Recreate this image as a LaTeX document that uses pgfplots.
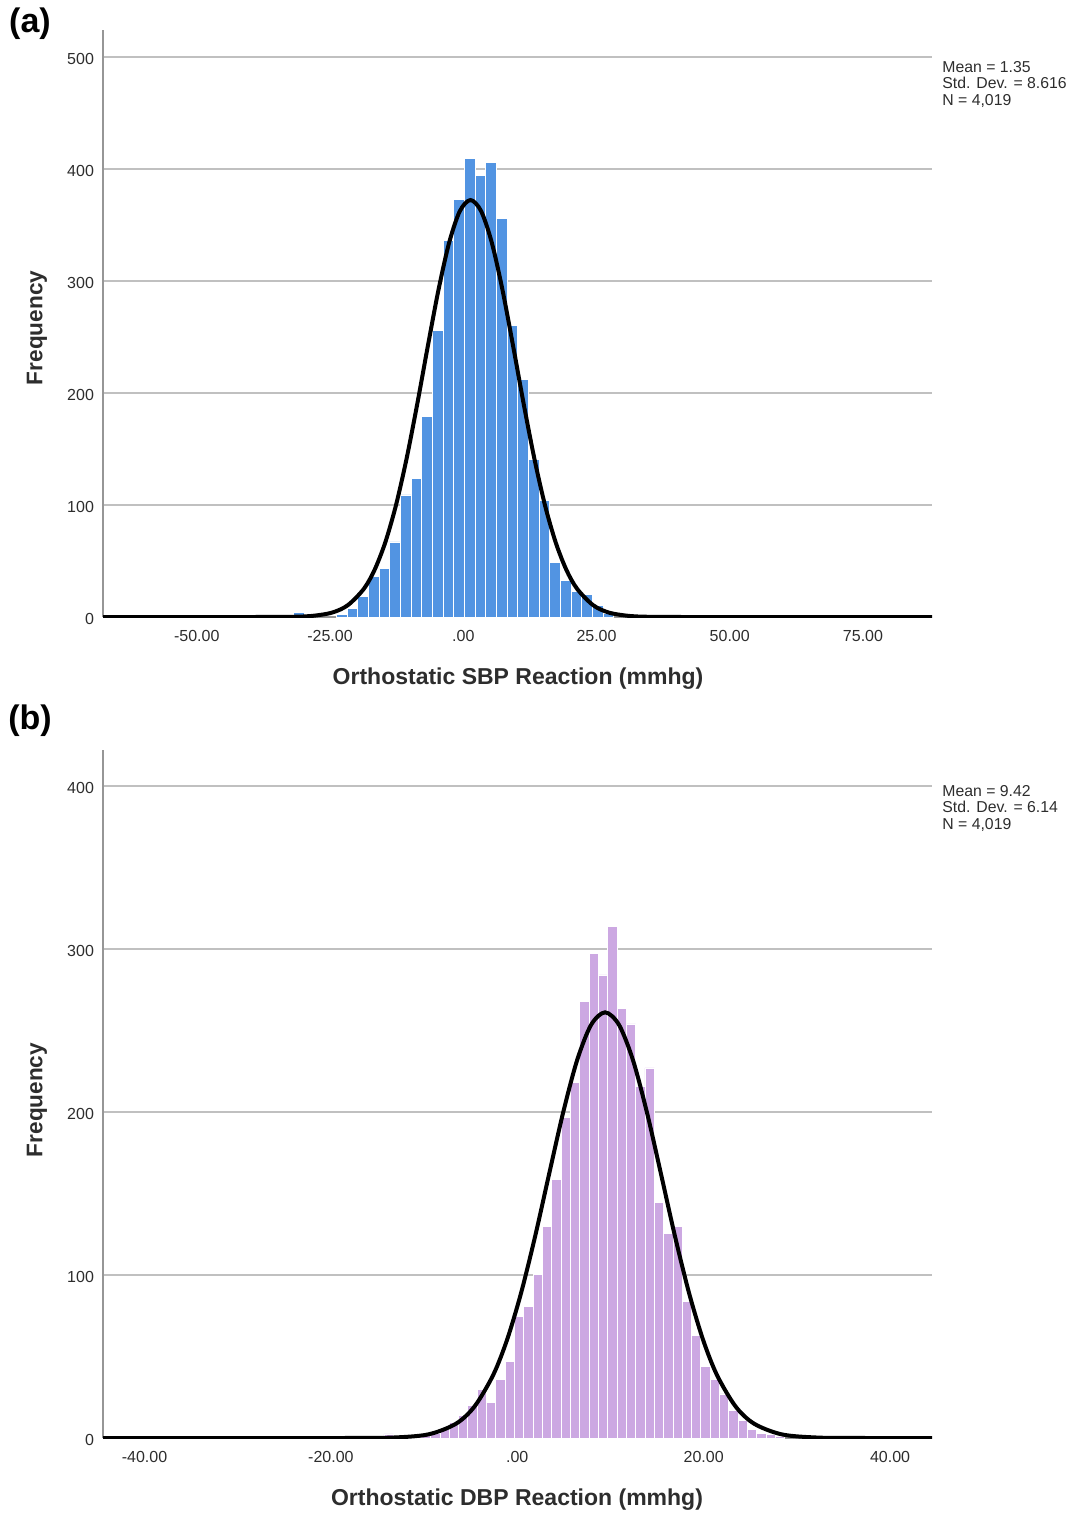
\documentclass[border=0pt]{standalone}
\usepackage{pgfplots}
\pgfplotsset{compat=1.18}
\usepackage{fontspec}
\setmainfont{Liberation Sans}
\definecolor{barA}{RGB}{82,148,226}
\definecolor{barB}{RGB}{204,168,226}
\definecolor{gridc}{RGB}{192,192,192}
\definecolor{axc}{RGB}{150,150,150}
\definecolor{tickc}{RGB}{45,45,45}
\pgfplotsset{
  myaxis/.style={
    scale only axis, width=414.5pt,
    axis x line=bottom, axis y line=left,
    axis line style={axc, line width=0.8pt, -},
    major tick length=0pt,
    ymajorgrids, grid style={gridc, line width=0.8pt},
    ymin=0,
    tick label style={font=\fontsize{8}{9.6}\selectfont, color=tickc},
    /pgf/number format/assume math mode=true,
    xticklabel style={yshift=-3pt},
    yticklabel style={xshift=-1pt, yshift=-1.2pt},
  }
}
\begin{document}
\begin{tikzpicture}
\useasboundingbox (0,0) rectangle (536.5pt,-757.5pt);
% ---------- (a) ----------
\begin{axis}[myaxis, at={(51.5pt,-308.5pt)}, anchor=south west,
  height=293.5pt, xmin=-67.6, xmax=87.95, ymax=524,
  ytick={0,100,200,300,400,500},
  xtick={-50,-25,0,25,50,75},
  xticklabels={-50.00,-25.00,.00,25.00,50.00,75.00}]
\addplot[ybar interval, fill=barA, draw=white, line width=0.4pt] coordinates {
(-31.8,4) (-29.8,4)};
\addplot[ybar interval, fill=barA, draw=white, line width=0.4pt] coordinates {
(-23.8,2) (-21.8,8) (-19.8,18) (-17.8,36) (-15.8,43) (-13.8,67) (-11.8,109)
(-9.8,124) (-7.8,179) (-5.8,256) (-3.8,336) (-1.8,373) (0.2,409) (2.2,394)
(4.2,406) (6.2,356) (8.2,260) (10.2,212) (12.2,141) (14.2,104) (16.2,48.5)
(18.2,33) (20.2,23) (22.2,20) (24.2,10) (26.2,3) (28.2,3)};
\addplot[black, line width=2pt, smooth] coordinates {
(-67.6,0) (-45,0) (-33.65,0.1) (-28.65,0.87) (-24.65,3.9) (-21.65,10.6) (-18.65,25.2)
(-16.65,42.0) (-14.65,66.4) (-12.65,99.4) (-10.65,141.1) (-8.65,189.8)
(-6.65,241.9) (-4.65,292.1) (-2.65,334.2) (-0.65,362.3) (1.35,372.2)
(3.35,362.3) (5.35,334.2) (7.35,292.1) (9.35,241.9) (11.35,189.8)
(13.35,141.1) (15.35,99.4) (17.35,66.4) (19.35,42.0) (21.35,25.2)
(24.35,10.6) (27.35,3.9) (31.35,0.87) (36.35,0.1) (48,0) (87.95,0)};
\end{axis}
% ---------- (b) ----------
\begin{axis}[myaxis, at={(51.5pt,-719pt)}, anchor=south west,
  height=344pt, xmin=-44.45, xmax=44.5, ymax=422,
  ytick={0,100,200,300,400},
  xtick={-40,-20,0,20,40},
  xticklabels={-40.00,-20.00,.00,20.00,40.00}]
\addplot[ybar interval, fill=barB, draw=white, line width=0.4pt] coordinates {
(-29.3,1) (-28.3,1)};
\addplot[ybar interval, fill=barB, draw=white, line width=0.4pt] coordinates {
(-20.3,1) (-19.3,1)};
\addplot[ybar interval, fill=barB, draw=white, line width=0.4pt] coordinates {
(-14.3,2.5) (-13.3,0) (-12.3,2) (-11.3,1) (-10.3,2) (-9.3,3) (-8.3,5)
(-7.3,9.8) (-6.3,13.9) (-5.3,20) (-4.3,29.6) (-3.3,22) (-2.3,35.7)
(-1.3,46.9) (-0.3,74.5) (0.7,80.6) (1.7,100.2) (2.7,129.6) (3.7,158.4)
(4.7,196.5) (5.7,218) (6.7,268) (7.7,297) (8.7,284) (9.7,314) (10.7,263.5)
(11.7,254) (12.7,215.6) (13.7,227) (14.7,144.6) (15.7,125.6) (16.7,130)
(17.7,84) (18.7,63) (19.7,44) (20.7,36) (21.7,27) (22.7,17) (23.7,11)
(24.7,5) (25.7,3) (26.7,2) (27.7,1) (28.7,1)};
\addplot[black, line width=2pt, smooth] coordinates {
(-44.45,0) (-25,0) (-18.58,0.01) (-13.58,0.23) (-9.58,2.18) (-6.58,8.76)
(-4.58,19.4) (-2.58,38.7) (-1.08,60.5) (0.42,89.2) (1.92,123.8) (3.42,162.0)
(4.92,199.6) (6.42,231.7) (7.92,253.4) (9.42,261.1) (10.92,253.4)
(12.42,231.7) (13.92,199.6) (15.42,162.0) (16.92,123.8) (18.42,89.2)
(19.92,60.5) (21.42,38.7) (23.42,19.4) (25.42,8.76) (28.42,2.18)
(32.42,0.23) (37.42,0.01) (44.5,0)};
\end{axis}
% ---------- texts ----------
\node[font=\fontsize{17}{20}\bfseries] at (15pt,-12pt) {(a)};
\node[font=\fontsize{17}{20}\bfseries] at (15pt,-360.5pt) {(b)};
\node[rotate=90, font=\fontsize{11.3}{13}\bfseries, color=tickc] at (18.5pt,-164pt) {Frequency};
\node[rotate=90, font=\fontsize{11.3}{13}\bfseries, color=tickc] at (18.5pt,-550pt) {Frequency};
\node[font=\fontsize{11.5}{13}\bfseries, color=tickc] at (259pt,-339.5pt) {Orthostatic SBP Reaction (mmhg)};
\node[font=\fontsize{11.5}{13}\bfseries, color=tickc] at (258.5pt,-750pt) {Orthostatic DBP Reaction (mmhg)};
\node[anchor=north west, align=left, inner sep=0pt, font=\fontsize{7.9}{8.25}\selectfont, color=tickc]
  at (471pt,-30.5pt) {Mean = 1.35\\Std. Dev. = 8.616\\N = 4,019};
\node[anchor=north west, align=left, inner sep=0pt, font=\fontsize{7.9}{8.25}\selectfont, color=tickc]
  at (471pt,-392.5pt) {Mean = 9.42\\Std. Dev. = 6.14\\N = 4,019};
\end{tikzpicture}
\end{document}
